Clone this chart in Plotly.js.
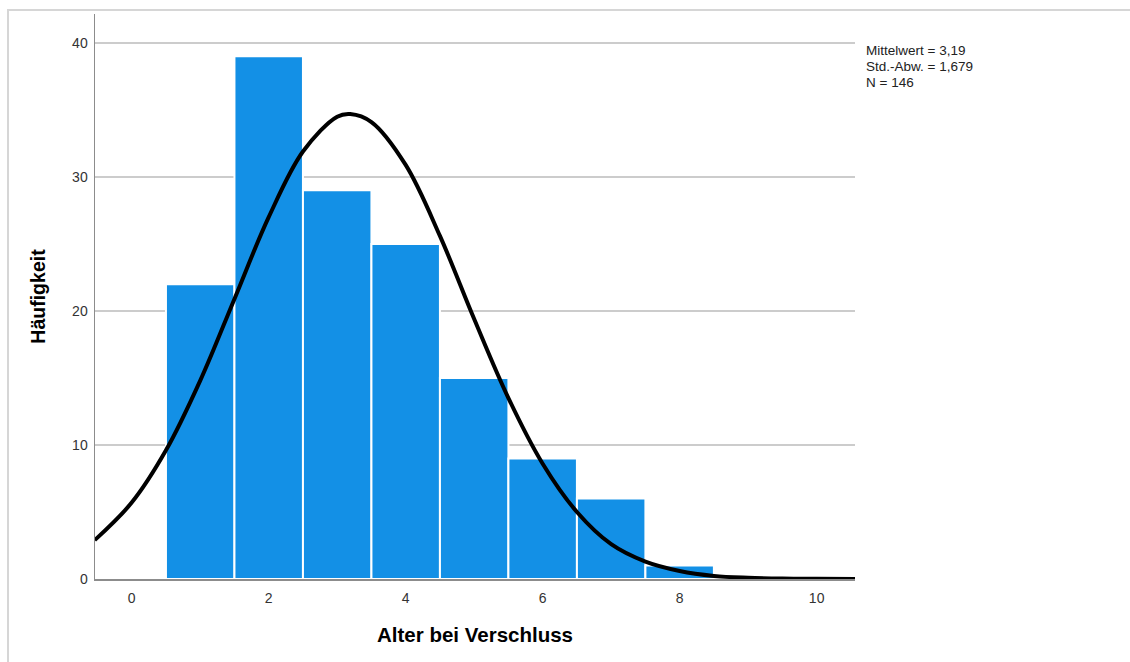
<!DOCTYPE html>
<html><head><meta charset="utf-8">
<script src="https://cdn.plot.ly/plotly-3.0.1.min.js"></script>
<style>
html,body{margin:0;padding:0;background:#fff;}
#frame{position:absolute;left:7px;top:9px;width:1130px;height:700px;border-left:2px solid #d6d6d6;border-top:2px solid #d6d6d6;pointer-events:none;z-index:5;}
#chart{position:absolute;left:0;top:0;width:1130px;height:662px;}
</style></head>
<body>
<div id="chart"></div>
<div id="frame"></div>
<script>
// Histogram: age at closure (bin centers) and frequencies
const binCenters = [1, 2, 3, 4, 5, 6, 7, 8];
const frequencies = [22, 39, 29, 25, 15, 9, 6, 1];
// Normal curve
const curveX = [-0.54, 0, 0.5, 1, 1.5, 2, 2.5, 3, 3.19, 3.5, 4, 4.5, 5, 5.5, 6, 6.5, 7, 7.5, 8, 8.5, 9, 9.5, 10, 10.56];
const curveY = [2.9, 5.7, 9.6, 14.8, 20.9, 27.0, 31.9, 34.5, 34.7, 34.1, 30.9, 25.6, 19.4, 13.5, 8.6, 5.0, 2.6, 1.3, 0.6, 0.23, 0.09, 0.03, 0.01, 0];
const statsLines = ["Mittelwert = 3,19", "Std.-Abw. = 1,679", "N = 146"];
const xTickVals = [0, 2, 4, 6, 8, 10];
const yTickVals = [0, 10, 20, 30, 40];

const traces = [
  {type:'bar', x: binCenters, y: frequencies, width: 1,
   marker:{color:'#1390e6', line:{color:'#ffffff', width:2}}, hoverinfo:'x+y'},
  {type:'scatter', mode:'lines', x: curveX, y: curveY,
   line:{color:'#000000', width:4, shape:'spline', smoothing:1}, hoverinfo:'skip'}
];

const plotH = 662 - 14 - 83;
const annotations = statsLines.map((t, i) => ({
  xref:'paper', yref:'paper', x:1.0115, y:(662 - 83 - (50 + 16*i)) / plotH,
  xanchor:'left', yanchor:'middle', align:'left', showarrow:false, text:t,
  font:{size:13.5, color:'#222222', family:'Liberation Sans, Arial, sans-serif'}
}));

const layout = {
  width:1130, height:662,
  margin:{l:95, r:275, t:14, b:83},
  paper_bgcolor:'#ffffff', plot_bgcolor:'#ffffff',
  showlegend:false, bargap:0,
  font:{family:'Liberation Sans, Arial, sans-serif', color:'#333333', size:14},
  xaxis:{range:[-0.536, 10.56], tickvals:xTickVals, ticktext:xTickVals.map(String),
    showgrid:false, zeroline:false, showline:true, linecolor:'#8c8c8c', linewidth:1.5,
    ticks:'outside', ticklen:6, tickcolor:'rgba(0,0,0,0)',
    tickfont:{size:14, color:'#333333'},
    title:{text:'Alter bei Verschluss', font:{size:20.5, color:'#000000', family:'Liberation Sans, Arial, sans-serif', weight:'bold'}, standoff:22}},
  yaxis:{range:[0, 42.16], tickvals:yTickVals, ticktext:yTickVals.map(String),
    showgrid:true, gridcolor:'#cccccc', gridwidth:1.5, zeroline:false,
    showline:true, linecolor:'#8c8c8c', linewidth:1.5,
    ticks:'outside', ticklen:3, tickcolor:'rgba(0,0,0,0)',
    tickfont:{size:14, color:'#333333'},
    title:{text:'Häufigkeit', font:{size:19.5, color:'#000000', family:'Liberation Sans, Arial, sans-serif', weight:'bold'}, standoff:21}},
  annotations: annotations
};
Plotly.newPlot('chart', traces, layout, {displayModeBar:false, staticPlot:true});
</script>
</body></html>
